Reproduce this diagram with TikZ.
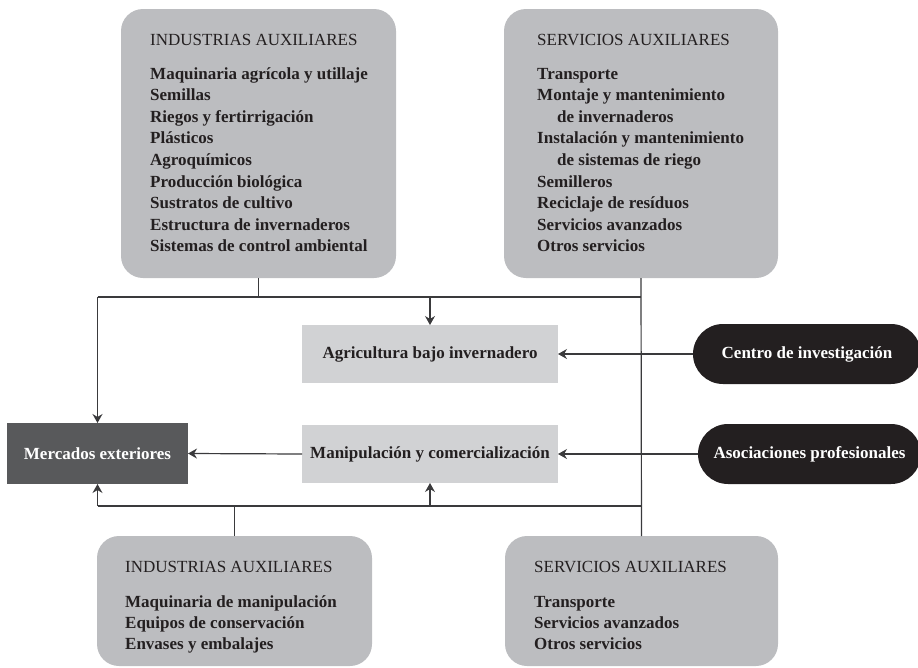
\documentclass[tikz,border=0pt]{standalone}
\usepackage{fontspec}
\setmainfont{Liberation Serif}
\usetikzlibrary{arrows.meta}
\definecolor{boxgray}{HTML}{BCBDC0}
\definecolor{lightgray}{HTML}{D1D2D4}
\definecolor{darkbox}{HTML}{58595B}
\definecolor{pillblack}{HTML}{231F20}
\definecolor{txt}{HTML}{231F20}
\definecolor{linecol}{HTML}{3A3A3C}
\begin{document}
\begin{tikzpicture}[x=1pt,y=-1pt,
  bigbox/.style={draw=none,fill=boxgray,rounded corners=22pt,inner sep=0pt,outer sep=0pt},
  midbox/.style={draw=none,fill=lightgray,inner sep=0pt,outer sep=0pt,minimum width=256pt,minimum height=58pt,text=txt,font=\fontsize{17}{20}\selectfont\bfseries},
  merbox/.style={draw=none,fill=darkbox,inner sep=0pt,outer sep=0pt,minimum width=181pt,minimum height=61pt,text=white,font=\fontsize{17}{20}\selectfont\bfseries},
  pill/.style={draw=none,fill=pillblack,rounded corners=30pt,inner sep=0pt,outer sep=0pt,minimum height=60pt,text=white,font=\fontsize{17}{20}\selectfont\bfseries},
  heading/.style={inner sep=0pt,anchor=base west,text=txt,font=\fontsize{17}{20}\selectfont},
  item/.style={inner sep=0pt,anchor=base west,text=txt,font=\fontsize{17}{20}\selectfont\bfseries},
  conn/.style={draw=linecol,line width=1.2pt},
  arr/.style={conn,-{Stealth[length=9pt,width=10pt,inset=3pt]}}
]
\useasboundingbox (0,0) rectangle (918,667);

% top boxes
\node[bigbox,minimum width=275pt,minimum height=269pt] (iat) at (258.5,143.5) {};
\node[bigbox,minimum width=274pt,minimum height=269pt] (sat) at (641,143.5) {};
% bottom boxes
\node[bigbox,minimum width=275pt,minimum height=130pt] (iab) at (234.5,601) {};
\node[bigbox,minimum width=273pt,minimum height=130pt] (sab) at (641.5,601) {};

% middle nodes
\node[midbox] (agr) at (430,354) {Agricultura bajo invernadero};
\node[midbox] (man) at (430,454) {Manipulación y comercialización};
\node[merbox] (mer) at (97.5,453.5) {Mercados exteriores};
\node[pill,minimum width=228pt] (cen) at (807,354) {Centro de investigación};
\node[pill,minimum width=223pt] (aso) at (809.5,454) {Asociaciones profesionales};

% texts top-left
\node[heading] (iath) at (150,45) {INDUSTRIAS AUXILIARES};
\foreach \t [count=\i from 0] in {Maquinaria agrícola y utillaje,Semillas,Riegos y fertirrigación,Plásticos,Agroquímicos,Producción biológica,Sustratos de cultivo,Estructura de invernaderos,Sistemas de control ambiental}
  \node[item] (iat-\i) at (150,{79+21.6*\i}) {\t};

% texts top-right
\node[heading] (sath) at (537,45) {SERVICIOS AUXILIARES};
\foreach \dx/\t [count=\i from 0] in {0/Transporte,0/Montaje y mantenimiento,20/de invernaderos,0/Instalación y mantenimiento,20/de sistemas de riego,0/Semilleros,0/Reciclaje de resíduos,0/Servicios avanzados,0/Otros servicios}
  \node[item] (sat-\i) at ({537+\dx},{79+21.6*\i}) {\t};

% texts bottom-left
\node[heading] (iabh) at (125,572) {INDUSTRIAS AUXILIARES};
\foreach \t [count=\i from 0] in {Maquinaria de manipulación,Equipos de conservación,Envases y embalajes}
  \node[item] (iab-\i) at (125,{607+21*\i}) {\t};

% texts bottom-right
\node[heading] (sabh) at (534,572) {SERVICIOS AUXILIARES};
\foreach \t [count=\i from 0] in {Transporte,Servicios avanzados,Otros servicios}
  \node[item] (sab-\i) at (534,{607+21*\i}) {\t};

% junction coordinates
\coordinate (tl) at (mer.north |- 0,297);
\coordinate (tm) at (iat.south |- 0,297);
\coordinate (ta) at (agr.north |- 0,297);
\coordinate (tr) at (sat.south |- 0,297);
\coordinate (bl) at (mer.south |- 0,506);
\coordinate (bm) at (iab.north |- 0,506);
\coordinate (ba) at (man.south |- 0,506);
\coordinate (br) at (sat.south |- 0,506);

% connectors
\draw[conn] (iat.south) -- (tm);
\draw[conn] (tl) -- (tr);
\draw[conn] (sat.south) -- (sab.north);
\draw[arr] (ta) -- (agr.north);
\draw[arr] (tl) -- (mer.north);
\draw[arr] (man.west) -- (mer.east);
\draw[conn] (bl) -- (br);
\draw[conn] (iab.north) -- (bm);
\draw[arr] (bl) -- (mer.south);
\draw[arr] (ba) -- (man.south);
\draw[arr] (cen.west) -- (agr.east);
\draw[arr] (aso.west) -- (man.east);
\end{tikzpicture}
\end{document}
